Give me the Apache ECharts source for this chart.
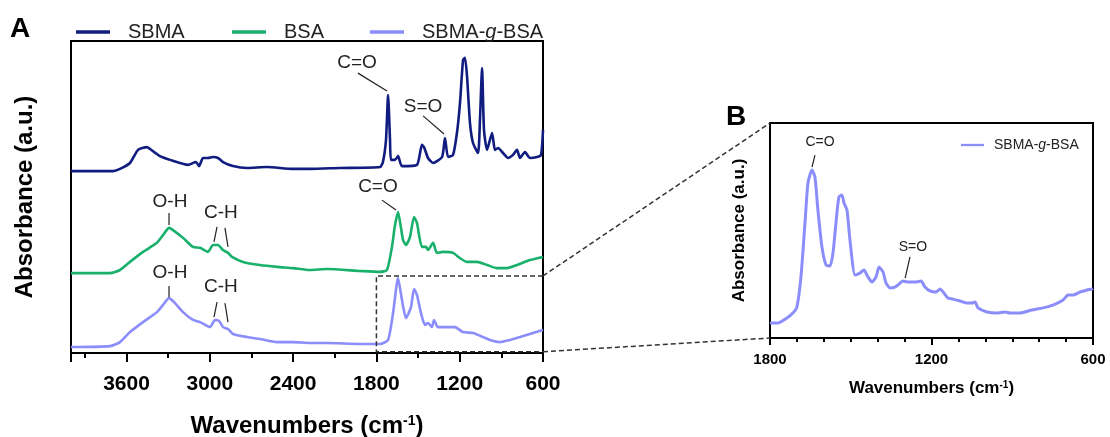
<!DOCTYPE html>
<html>
<head>
<meta charset="utf-8">
<script src="https://cdn.jsdelivr.net/npm/echarts@6/dist/echarts.min.js"></script>
<style>
  html, body { margin: 0; padding: 0; background: #fff; }
  #main { width: 1110px; height: 437px; }
</style>
</head>
<body>
<div id="main"></div>
<script>
// FTIR spectra: wavenumber (cm-1) and stacked absorbance (a.u.)
var sbmaWn = [4000,3697,3647,3575,3517,3453,3431,3359,3287,3157,3100,3078,3049,3013,2977,2941,2905,2833,2732,2588,2401,2278,2062,1774,1753,1731,1716,1702,1695,1666,1644,1616,1508,1472,1457,1428,1392,1327,1306,1284,1248,1220,1198,1176,1162,1147,1126,1104,1068,1054,1039,1025,1003,967,946,924,888,852,816,787,766,730,694,643,614,600];
var sbmaAbs = [58.3,58.3,59.0,60.9,65.1,66.0,65.4,63.1,61.9,60.3,61.2,59.9,62.5,62.5,62.8,62.5,61.2,59.9,59.3,59.6,59.0,59.0,59.3,59.6,61.2,68.3,82.7,68.3,61.9,61.9,63.1,59.9,60.3,66.7,66.0,62.5,60.9,62.8,68.9,62.8,63.5,70.5,80.1,93.9,94.6,88.5,73.7,67.3,64.1,74.7,91.3,71.5,65.1,70.5,65.1,65.7,64.1,62.5,63.5,65.1,62.5,64.4,62.5,62.8,63.5,71.5];

var bsaWn = [4000,3719,3647,3575,3481,3381,3337,3294,3265,3193,3121,3071,3013,2977,2941,2905,2869,2840,2761,2639,2516,2401,2278,2156,1918,1774,1724,1688,1666,1644,1623,1608,1587,1558,1529,1508,1472,1443,1428,1392,1364,1320,1248,1198,1147,1075,1003,931,859,787,694,600];
var bsaAbs = [25.6,25.6,26.6,29.2,32.4,35.3,37.8,40.1,39.4,36.9,34.0,33.7,32.4,34.6,34.6,33.0,32.1,30.8,29.2,28.2,27.6,27.2,26.6,26.9,26.3,26.0,26.6,34.0,41.0,45.2,40.1,36.2,34.6,37.2,43.6,41.7,34.0,34.0,33.0,35.3,32.1,32.4,32.1,30.4,29.2,29.2,28.2,27.2,27.2,28.2,29.8,30.8];

var graftWn = [4000,3719,3647,3575,3481,3381,3337,3294,3251,3193,3121,3071,2999,2963,2934,2905,2869,2833,2732,2639,2516,2401,2278,2156,1918,1774,1716,1680,1644,1616,1587,1551,1529,1508,1479,1450,1428,1400,1385,1356,1291,1234,1176,1104,1032,982,910,838,766,672,600];
var graftAbs = [1.9,2.2,3.5,6.7,9.9,13.1,15.4,17.6,16.0,13.1,10.6,9.9,8.3,10.6,10.3,8.3,7.7,6.1,5.1,4.5,3.5,3.5,3.2,3.2,2.9,2.9,4.2,12.8,24.0,17.0,11.2,14.7,20.5,18.6,12.8,9.0,9.6,8.3,10.6,8.3,8.3,8.3,6.7,6.4,5.1,4.2,3.5,4.2,5.1,6.4,7.4];

// panel B: SBMA-g-BSA, 1800-600 cm-1 region
var zoomWn = [1800,1792,1770,1737,1715,1700,1685,1670,1659,1644,1633,1622,1607,1592,1577,1566,1555,1544,1533,1525,1514,1503,1484,1466,1451,1436,1421,1406,1395,1380,1369,1354,1336,1324,1306,1287,1261,1239,1224,1206,1183,1168,1154,1139,1120,1094,1068,1050,1038,1027,994,957,927,908,871,827,786,749,711,693,674,648,622,604,600];
var zoomAbs = [6.8,7.0,7.0,9.3,11.6,14.4,28.4,53.5,72.1,78.1,74.9,59.5,42.3,34.0,33.5,39.5,53.5,65.6,66.5,62.8,59.5,45.6,29.3,30.2,31.6,28.4,26.0,28.4,33.0,30.7,25.6,23.3,23.7,24.7,26.5,26.0,26.0,26.5,23.7,21.9,21.4,22.8,20.9,18.6,18.1,17.2,16.3,16.3,16.7,14.0,12.1,11.6,12.1,11.6,11.6,13.0,14.0,15.3,17.7,20.0,20.0,21.4,22.3,22.8,23.0];

var seriesNames = ['SBMA', 'BSA', 'SBMA-g-BSA'];
var colors = ['#101c80', '#19b06c', '#8b8dfb'];

// peak labels: [text, wavenumber, absorbance] + leader lines
var notesA = [
  { text: 'C=O', at: [1940, 92.9], lines: [[[1933, 89.7], [1724, 84.0]]] },
  { text: 'S=O', at: [1464, 78.8], lines: [[[1464, 76.0], [1313, 70.2]]] },
  { text: 'C=O', at: [1789, 53.2], lines: [[[1760, 49.0], [1659, 45.8]]] },
  { text: 'O-H', at: [3287, 48.4], lines: [[[3294, 44.9], [3294, 41.0]]] },
  { text: 'C-H', at: [2920, 44.9], lines: [[[2948, 40.4], [2970, 35.6]], [[2891, 40.1], [2869, 34.0]]] },
  { text: 'O-H', at: [3287, 25.6], lines: [[[3294, 21.5], [3294, 17.9]]] },
  { text: 'C-H', at: [2920, 21.2], lines: [[[2948, 16.3], [2970, 11.5]], [[2891, 16.0], [2869, 9.9]]] }
];
var notesB = [
  { text: 'C=O', at: [1614, 91.2], lines: [[[1633, 85.1], [1644, 79.5]]] },
  { text: 'S=O', at: [1269, 42.3], lines: [[[1280, 37.7], [1298, 27.9]]] }
];

var FONT = '"Liberation Sans", Arial, sans-serif';

function pairs(xs, ys) {
  return xs.map(function (x, i) { return [x, ys[i]]; });
}

function legendItem(name, left, top, width, size, gap) {
  return {
    data: [name],
    left: left,
    top: top,
    itemWidth: width,
    itemHeight: 12,
    icon: 'path://M0,0 L10,0 L10,1 L0,1 Z',
    formatter: function (n) { return n.replace('-g-', '-{i|g}-'); },
    textStyle: {
      fontFamily: FONT, fontSize: size, color: '#222', padding: [0, 0, 0, gap],
      rich: { i: { fontFamily: FONT, fontSize: size, fontStyle: 'italic', color: '#222' } }
    }
  };
}

var chart = echarts.init(document.getElementById('main'));

var blackLine = { color: '#000', width: 2 };

var option = {
  animation: false,
  textStyle: { fontFamily: FONT },
  grid: [
    { left: 71, top: 41, width: 472, height: 312, show: true, borderColor: '#000', borderWidth: 2, outerBoundsMode: 'none' },
    { left: 770, top: 123, width: 323, height: 215, show: true, borderColor: '#000', borderWidth: 2, outerBoundsMode: 'none' }
  ],
  legend: [
    legendItem('SBMA', 71, 17, 34, 20, 13),
    legendItem('BSA', 227, 17, 34, 20, 13),
    legendItem('SBMA-g-BSA', 365, 17, 34, 20, 13),
    legendItem('SBMA-g-BSA', 956, 133, 23, 14, 5)
  ],
  xAxis: [
    {
      gridIndex: 0, type: 'value', min: 600, max: 4000, interval: 600, inverse: true,
      axisLine: { lineStyle: blackLine },
      axisTick: { length: 9, lineStyle: blackLine },
      splitLine: { show: false },
      axisLabel: {
        fontSize: 21, fontWeight: 'bold', color: '#000', margin: 21, fontFamily: FONT,
        formatter: function (v) { return v % 600 === 0 ? String(v) : ''; }
      },
      name: 'Wavenumbers (cm{sup|-1})', nameLocation: 'middle', nameGap: 61,
      nameTextStyle: {
        fontSize: 24, fontWeight: 'bold', color: '#000', fontFamily: FONT,
        rich: { sup: { fontSize: 14, fontWeight: 'bold', color: '#000', verticalAlign: 'top', fontFamily: FONT } }
      }
    },
    {
      gridIndex: 0, type: 'value', min: 600, max: 4000, interval: 300, inverse: true, position: 'bottom',
      axisLine: { show: false },
      axisTick: { length: 5, lineStyle: blackLine },
      splitLine: { show: false },
      axisLabel: { show: false }
    },
    {
      gridIndex: 1, type: 'value', min: 600, max: 1800, interval: 600, inverse: true,
      axisLine: { lineStyle: blackLine },
      axisTick: { length: 7, lineStyle: blackLine },
      minorTick: { show: true, splitNumber: 6, length: 4, lineStyle: blackLine },
      splitLine: { show: false },
      axisLabel: {
        fontSize: 15, fontWeight: 'bold', color: '#000', margin: 14, fontFamily: FONT,
        formatter: function (v) { return String(v); }
      },
      name: 'Wavenumbers (cm{sup|-1})', nameLocation: 'middle', nameGap: 42,
      nameTextStyle: {
        fontSize: 17, fontWeight: 'bold', color: '#000', fontFamily: FONT,
        rich: { sup: { fontSize: 10, fontWeight: 'bold', color: '#000', verticalAlign: 'top', fontFamily: FONT } }
      }
    }
  ],
  yAxis: [
    {
      gridIndex: 0, type: 'value', min: 0, max: 100,
      axisLine: { lineStyle: blackLine }, axisTick: { show: false },
      axisLabel: { show: false }, splitLine: { show: false },
      name: 'Absorbance (a.u.)', nameLocation: 'middle', nameGap: 34,
      nameTextStyle: { fontSize: 24, fontWeight: 'bold', color: '#000', fontFamily: FONT }
    },
    {
      gridIndex: 1, type: 'value', min: 0, max: 100,
      axisLine: { lineStyle: blackLine }, axisTick: { show: false },
      axisLabel: { show: false }, splitLine: { show: false },
      name: 'Absorbance (a.u.)', nameLocation: 'middle', nameGap: 22,
      nameTextStyle: { fontSize: 17, fontWeight: 'bold', color: '#000', fontFamily: FONT }
    }
  ],
  series: [
    { name: seriesNames[0], data: pairs(sbmaWn, sbmaAbs), xAxisIndex: 0, yAxisIndex: 0, color: colors[0] },
    { name: seriesNames[1], data: pairs(bsaWn, bsaAbs), xAxisIndex: 0, yAxisIndex: 0, color: colors[1] },
    { name: seriesNames[2], data: pairs(graftWn, graftAbs), xAxisIndex: 0, yAxisIndex: 0, color: colors[2] },
    { name: seriesNames[2], data: pairs(zoomWn, zoomAbs), xAxisIndex: 2, yAxisIndex: 1, color: colors[2], width: 3 }
  ].map(function (s) {
    return {
      name: s.name, type: 'line', data: s.data, xAxisIndex: s.xAxisIndex, yAxisIndex: s.yAxisIndex,
      symbol: 'none', smooth: 0.2, color: s.color,
      lineStyle: { color: s.color, width: s.width || 2.6 },
      itemStyle: { color: s.color }
    };
  })
};

chart.setOption(option);

// annotations placed through the axes' own scales
function toA(p) { return chart.convertToPixel({ seriesIndex: 0 }, p); }
function toB(p) { return chart.convertToPixel({ seriesIndex: 3 }, p); }

var graphics = [];
function addNotes(notes, conv, size) {
  notes.forEach(function (n) {
    var c = conv(n.at);
    graphics.push({
      type: 'text', x: c[0], y: c[1], z: 100, silent: true,
      style: { text: n.text, fill: '#222', fontSize: size, fontFamily: FONT, align: 'center', verticalAlign: 'middle' }
    });
    n.lines.forEach(function (l) {
      var a = conv(l[0]), b = conv(l[1]);
      graphics.push({
        type: 'line', z: 100, silent: true,
        shape: { x1: a[0], y1: a[1], x2: b[0], y2: b[1] },
        style: { stroke: '#222', lineWidth: 1.2 }
      });
    });
  });
}
addNotes(notesA, toA, 19);
addNotes(notesB, toB, 14);

// zoom box in A and connectors to B
var boxTop = 24.7, boxBottom = 0.4;
var c1 = toA([1800, boxTop]), c2 = toA([600, boxTop]), c3 = toA([1800, boxBottom]), c4 = toA([600, boxBottom]);
var b1 = toB([1800, 100]), b2 = toB([1800, 0]);
var dash = { stroke: '#333', lineWidth: 1.5, lineDash: [5, 3], fill: null };
graphics.push({ type: 'polyline', z: 90, silent: true, shape: { points: [c2, c1, c3, c4] }, style: dash });
graphics.push({ type: 'line', z: 90, silent: true, shape: { x1: c2[0], y1: c2[1], x2: b1[0], y2: b1[1] }, style: dash });
graphics.push({ type: 'line', z: 90, silent: true, shape: { x1: c4[0], y1: c4[1], x2: b2[0], y2: b2[1] }, style: dash });

// panel letters
graphics.push({ type: 'text', x: 20, y: 29, silent: true, style: { text: 'A', fill: '#000', fontSize: 28, fontWeight: 'bold', fontFamily: FONT, align: 'center', verticalAlign: 'middle' } });
graphics.push({ type: 'text', x: 736, y: 117, silent: true, style: { text: 'B', fill: '#000', fontSize: 28, fontWeight: 'bold', fontFamily: FONT, align: 'center', verticalAlign: 'middle' } });

chart.setOption({ graphic: graphics });
</script>
</body>
</html>
